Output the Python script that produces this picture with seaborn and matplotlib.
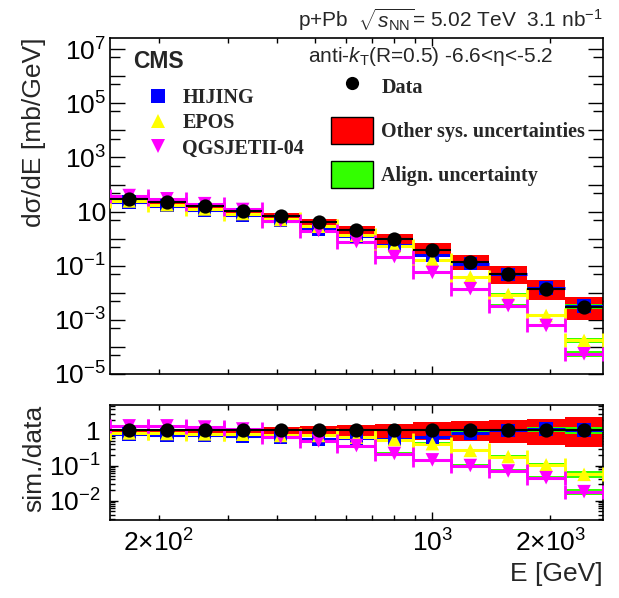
import numpy as np
import pandas as pd
import matplotlib
matplotlib.use("Agg")
import matplotlib.pyplot as plt
import matplotlib.ticker as mticker
from matplotlib.lines import Line2D
from matplotlib.patches import Patch
import seaborn as sns

sns.set_style("ticks")
plt.rcParams['font.family'] = ['Liberation Sans', 'DejaVu Sans']
plt.rcParams['mathtext.fontset'] = 'custom'
plt.rcParams['mathtext.rm'] = 'Liberation Sans'
plt.rcParams['mathtext.it'] = 'Liberation Sans:italic'
plt.rcParams['mathtext.bf'] = 'Liberation Sans:bold'

# Jet energy bins [GeV]
edges = [150, 188, 234, 293, 366, 458, 572, 715, 894, 1118, 1397, 1746, 2183, 2729]

# Measured dsigma/dE [mb/GeV]
data = [29, 22, 15.7, 10.9, 7.1, 4.0, 2.1, 0.99, 0.39, 0.142, 0.048, 0.0138, 0.0031]

# Other sys. uncertainties, as factors on the data (upper / lower)
sys_hi = [1.12, 1.12, 1.14, 1.17, 1.22, 1.35, 1.45, 1.55, 1.70, 1.80, 2.00, 2.15, 2.35]
sys_lo = [0.88, 0.88, 0.86, 0.83, 0.78, 0.71, 0.68, 0.60, 0.54, 0.49, 0.44, 0.39, 0.33]

# sim./data for the three generators
ratio_hijing = [0.78, 0.75, 0.72, 0.70, 0.65, 0.57, 0.60, 0.58, 0.65, 0.85, 1.00, 1.08, 1.03]
ratio_epos = [0.85, 0.82, 0.80, 0.78, 0.72, 0.72, 0.64, 0.55, 0.42, 0.27, 0.18, 0.105, 0.056]
ratio_qgsjet = [1.35, 1.35, 1.25, 1.10, 0.65, 0.50, 0.37, 0.22, 0.145, 0.10, 0.07, 0.045, 0.018]

# relative alignment uncertainty on the simulations
align_unc = [0.04, 0.04, 0.04, 0.05, 0.05, 0.06, 0.07, 0.08, 0.09, 0.10, 0.12, 0.14, 0.22]

models = ['HIJING', 'EPOS', 'QGSJETII-04']
colors = {'HIJING': '#0000ff', 'EPOS': '#ffff00', 'QGSJETII-04': '#ff00ff'}
markers = {'HIJING': 's', 'EPOS': '^', 'QGSJETII-04': 'v'}
GREEN = '#33ff00'

lo = np.array(edges[:-1], dtype=float)
hi = np.array(edges[1:], dtype=float)
centers = np.sqrt(lo * hi)
widths = hi - lo
data_arr = np.array(data)

rows = []
for name, ratios in zip(models, [ratio_hijing, ratio_epos, ratio_qgsjet]):
    for i, r in enumerate(ratios):
        rows.append({'model': name, 'E': centers[i], 'lo': lo[i], 'hi': hi[i],
                     'ratio': r, 'xsec': data_arr[i] * r, 'align': align_unc[i]})
df = pd.DataFrame(rows)


def draw_panel(ax, ycol, ref):
    # red boxes: other systematic uncertainties of the data
    ax.bar(lo, ref * (np.array(sys_hi) - np.array(sys_lo)), bottom=ref * np.array(sys_lo),
           width=widths, align='edge', color='red', linewidth=0, zorder=1)
    # green boxes: alignment uncertainty of each simulation
    for name in models:
        sub = df[df.model == name]
        v = sub[ycol].values
        a = sub['align'].values
        ax.bar(sub['lo'].values, v * 2 * a, bottom=v * (1 - a), width=widths,
               align='edge', color=GREEN, linewidth=0, zorder=2)
    for name in models:
        sub = df[df.model == name]
        ax.errorbar(sub['E'], sub[ycol], xerr=[sub['E'] - sub['lo'], sub['hi'] - sub['E']],
                    fmt='none', ecolor=colors[name], elinewidth=2.2,
                    capsize=0 if name == 'HIJING' else 5, capthick=2, zorder=3)
    sns.scatterplot(data=df, x='E', y=ycol, hue='model', style='model',
                    hue_order=models, style_order=models, palette=colors, markers=markers,
                    s=95, linewidth=0, legend=False, ax=ax, zorder=4)
    ax.errorbar(centers, ref, xerr=[centers - lo, hi - centers], fmt='none',
                ecolor='black', elinewidth=1.5, zorder=5)
    sns.scatterplot(x=centers, y=ref, color='black', s=105, linewidth=0, ax=ax, zorder=6)


def pow_label(v):
    k = int(round(np.log10(v)))
    m = v / 10.0 ** k
    if abs(m - 1) < 1e-6:
        if k == 0:
            return '1'
        if k == 1:
            return '10'
        return r'10$^{%d}$' % k
    return r'%d×10$^{%d}$' % (int(round(m)), k)


fig = plt.figure(figsize=(6.19, 5.98), dpi=100)
ax = fig.add_axes([0.1777, 0.3746, 0.7965, 0.5619])
axr = fig.add_axes([0.1777, 0.1304, 0.7965, 0.1923])

for a in (ax, axr):
    a.set_xscale('log')
    a.set_yscale('log')

draw_panel(ax, 'xsec', data_arr)
draw_panel(axr, 'ratio', np.ones_like(data_arr))

TICK = 19
for a in (ax, axr):
    a.set_xlim(edges[0], edges[-1])
    a.xaxis.set_major_locator(mticker.FixedLocator([1000]))
    a.xaxis.set_minor_locator(mticker.FixedLocator([200, 300, 400, 500, 600, 700, 800, 900, 2000]))
    a.xaxis.set_major_formatter(mticker.FuncFormatter(lambda v, p: pow_label(v)))
    a.xaxis.set_minor_formatter(mticker.FuncFormatter(
        lambda v, p: pow_label(v) if v in (200, 2000) else ''))
    a.tick_params(axis='both', which='both', direction='in', top=True, right=True,
                  labelsize=TICK, colors='black')
    a.tick_params(axis='x', which='major', length=6, width=1)
    a.tick_params(axis='x', which='minor', length=3.5, width=1, labelsize=TICK)
    for s in a.spines.values():
        s.set_linewidth(1.2)
        s.set_color('black')
    a.set_xlabel('')
    a.set_ylabel('')

ax.tick_params(axis='x', which='both', labelbottom=False)
axr.tick_params(axis='x', which='both', pad=7)

# main panel y axis
ax.set_ylim(1e-5, 2.6e7)
ax.yaxis.set_major_locator(mticker.FixedLocator([10.0 ** k for k in range(-5, 8)]))
ax.yaxis.set_major_formatter(mticker.FuncFormatter(
    lambda v, p: pow_label(v) if int(round(np.log10(v))) % 2 else ''))
ax.yaxis.set_minor_locator(mticker.FixedLocator([5 * 10.0 ** k for k in range(-6, 7)]))
ax.yaxis.set_minor_formatter(mticker.NullFormatter())
ax.tick_params(axis='y', which='major', length=11, width=1, pad=3)
ax.tick_params(axis='y', which='minor', length=7, width=1)

# ratio panel y axis
axr.set_ylim(2.8e-3, 5.3)
axr.yaxis.set_major_locator(mticker.FixedLocator([1e-2, 1e-1, 1]))
axr.yaxis.set_major_formatter(mticker.FuncFormatter(lambda v, p: pow_label(v)))
axr.yaxis.set_minor_locator(mticker.LogLocator(base=10, subs=np.arange(2, 10)))
axr.yaxis.set_minor_formatter(mticker.NullFormatter())
axr.tick_params(axis='y', which='major', length=6, width=1, pad=7)
axr.tick_params(axis='y', which='minor', length=3.5, width=1)

ax.set_ylabel('dσ/dE [mb/GeV]', fontsize=19, loc='top')
ax.yaxis.set_label_coords(-0.13, 1.0)
axr.set_ylabel('sim./data', fontsize=19, loc='top')
axr.yaxis.set_label_coords(-0.13, 1.0)
axr.set_xlabel('E [GeV]', fontsize=19, loc='right', labelpad=4)

# texts
fig.text(0.973, 0.955, r'p+Pb  $\sqrt{s_{\mathrm{NN}}}$= 5.02 TeV  3.1 nb$^{-1}$',
         ha='right', va='baseline', fontsize=15)
ax.text(0.047, 0.93, 'CMS', transform=ax.transAxes, fontsize=16.5,
        fontweight='bold', ha='left', va='center')
ax.text(0.9, 0.945, r'anti-$k_{\mathrm{T}}$(R=0.5) -6.6<η<-5.2', transform=ax.transAxes,
        fontsize=15, ha='right', va='center')

legend_font = {'family': 'Liberation Serif', 'weight': 'bold', 'size': 14.5}
gen_handles = [Line2D([], [], ls='none', marker=markers[m], color=colors[m], ms=9.5, mew=0)
               for m in models]
leg1 = ax.legend(gen_handles, models, loc='upper left', bbox_to_anchor=(0.077, 0.850),
                 frameon=False, prop=legend_font, handlelength=1.0, handletextpad=0.7,
                 labelspacing=0.25, borderpad=0, borderaxespad=0)
ax.add_artist(leg1)

unc_handles = [Line2D([], [], ls='none', marker='o', color='black', ms=9.5, mew=0),
               Patch(facecolor='red', edgecolor='black', linewidth=1),
               Patch(facecolor=GREEN, edgecolor='black', linewidth=1)]
ax.legend(unc_handles, ['Data', 'Other sys. uncertainties', 'Align. uncertainty'],
          loc='upper left', bbox_to_anchor=(0.448, 0.897), frameon=False, prop=legend_font,
          handlelength=2.1, handleheight=1.7, handletextpad=0.4, labelspacing=0.85,
          borderpad=0, borderaxespad=0)

fig.savefig('out.png', dpi=100, facecolor='white')
